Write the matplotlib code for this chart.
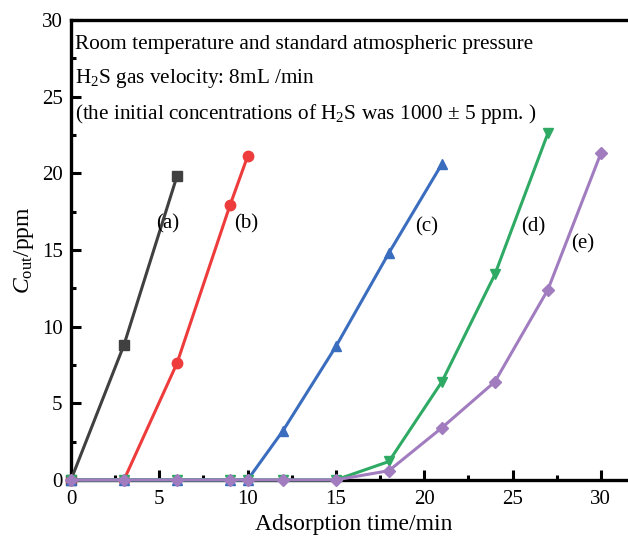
import numpy as np
import matplotlib
matplotlib.use("Agg")
import matplotlib.pyplot as plt
from matplotlib.ticker import MultipleLocator

plt.rcParams.update({
    "font.family": "Liberation Serif",
    "mathtext.fontset": "custom",
    "mathtext.rm": "Liberation Serif",
    "mathtext.it": "Liberation Serif:italic",
    "font.size": 15,
})

# data
t_a = [0, 3, 6]
c_a = [0, 8.8, 19.8]
t_b = [0, 3, 6, 9, 10]
c_b = [0, 0, 7.6, 17.9, 21.1]
t_c = [0, 3, 6, 9, 10, 12, 15, 18, 21]
c_c = [0, 0, 0, 0, 0, 3.2, 8.7, 14.8, 20.6]
t_d = [0, 3, 6, 9, 10, 12, 15, 18, 21, 24, 27]
c_d = [0, 0, 0, 0, 0, 0, 0, 1.2, 6.4, 13.4, 22.6]
t_e = [0, 3, 6, 9, 10, 12, 15, 18, 21, 24, 27, 30]
c_e = [0, 0, 0, 0, 0, 0, 0, 0.6, 3.4, 6.4, 12.4, 21.3]

labels = ["(a)", "(b)", "(c)", "(d)", "(e)"]
label_pos = [(5.45, 16.7), (9.9, 16.7), (20.15, 16.5), (26.15, 16.5), (29.0, 15.4)]

fig = plt.figure(figsize=(6.28, 5.38), dpi=100)
ax = fig.add_axes([0.113, 0.108, 0.90, 0.855])

series = [
    (t_a, c_a, "#404040", "s"),
    (t_b, c_b, "#EE3B3B", "o"),
    (t_c, c_c, "#3B6DBF", "^"),
    (t_d, c_d, "#2FAA65", "v"),
    (t_e, c_e, "#A17DC0", "D"),
]
for t, c, col, m in series:
    ms = 6.5 if m == "D" else 7.5
    ax.plot(t, c, "-", color=col, marker=m, lw=2.2, ms=ms, clip_on=False, zorder=3)

for lab, (x, y) in zip(labels, label_pos):
    ax.text(x, y, lab, ha="center", va="center", fontsize=15)

ax.text(0.008, 0.968, "Room temperature and standard atmospheric pressure",
        transform=ax.transAxes, ha="left", va="top", fontsize=15.3)
ax.text(0.008, 0.897, "H$_2$S gas velocity: 8mL /min",
        transform=ax.transAxes, ha="left", va="top", fontsize=15.3)
ax.text(0.008, 0.822, "(the initial concentrations of H$_2$S was 1000 ± 5 ppm. )",
        transform=ax.transAxes, ha="left", va="top", fontsize=15.3)

ax.set_xlim(0, 32)
ax.set_ylim(0, 30)
ax.xaxis.set_major_locator(MultipleLocator(5))
ax.xaxis.set_minor_locator(MultipleLocator(2.5))
ax.yaxis.set_major_locator(MultipleLocator(5))
ax.yaxis.set_minor_locator(MultipleLocator(2.5))
ax.tick_params(which="both", direction="in", width=2.2, labelsize=15)
ax.tick_params(which="major", length=7)
ax.tick_params(which="minor", length=3.5)
ax.tick_params(axis="x", pad=7)
ax.tick_params(axis="y", pad=6)
for s in ax.spines.values():
    s.set_linewidth(2.4)

ax.set_xlabel("Adsorption time/min", fontsize=17, labelpad=4)
ax.set_ylabel(r"$\mathit{C}_{\rm out}$/ppm", fontsize=17, labelpad=4)

fig.savefig("out.png", dpi=100)
